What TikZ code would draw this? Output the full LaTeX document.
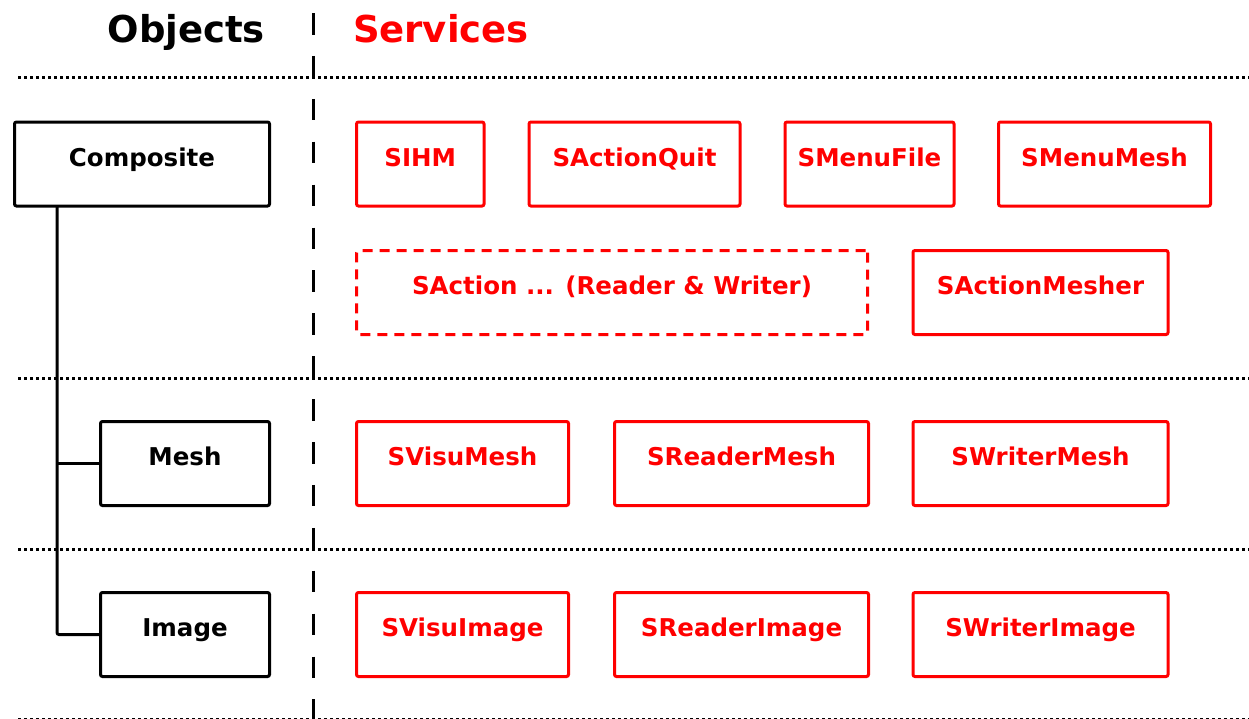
\documentclass[tikz,border=0pt]{standalone}
\usepackage{fontspec}
\setmainfont{DejaVu Sans}
\begin{document}
\begin{tikzpicture}[x=1pt,y=-1pt,
  every node/.style={outer sep=0pt},
  boxbase/.style={line width=3pt, rounded corners=2pt, anchor=north west,
    inner xsep=0pt, inner ysep=0pt, text height=44pt, text depth=40pt,
    font=\fontsize{24.5}{29}\selectfont\bfseries},
  objbox/.style={boxbase, draw=black, text=black},
  svcbox/.style={boxbase, draw=red, text=red},
  svcopen/.style={svcbox, dash pattern=on 10pt off 7pt},
  rowsep/.style={line width=3pt, dash pattern=on 3pt off 3pt, draw=black},
  colsep/.style={line width=3pt, dash pattern=on 21.5pt off 21.4pt, draw=black},
  tree/.style={line width=3pt, draw=black, rounded corners=2pt},
  heading/.style={font=\fontsize{37}{44}\selectfont\bfseries, inner sep=0pt}]
\useasboundingbox (0,0) rectangle (1249,718);

% column headings
\node[heading, anchor=base east] (hobj) at (265,42) {Objects};
\node[heading, anchor=base west, text=red] (hsvc) at (353,42) {Services};

% horizontal row separators
\draw[rowsep] (18,77.5) -- (1252,77.5);
\draw[rowsep] (18,378) -- (1252,378);
\draw[rowsep] (18,549) -- (1252,549);
\draw[rowsep] (18,719) -- (1252,719);

% vertical column separator
\draw[colsep] (313,13) -- (313,722);

% object hierarchy
\node[objbox, minimum width=255pt] (comp) at (14.5,122) {Composite};
\node[objbox, minimum width=169pt] (mesh) at (100.5,421.5) {Mesh};
\node[objbox, minimum width=169pt] (img)  at (100.5,592.5) {Image};

\coordinate (trunk) at (57,0);
\draw[tree] (trunk |- comp.south) |- (img.west);
\draw[tree] (trunk |- mesh.west) -- (mesh.west);

% services of the composite
\node[svcbox, minimum width=127.5pt] (sihm)  at (356.5,122) {SIHM};
\node[svcbox, minimum width=211pt]   (squit) at (529,122)   {SActionQuit};
\node[svcbox, minimum width=169pt]   (sfile) at (785,122)   {SMenuFile};
\node[svcbox, minimum width=212pt]   (smesh) at (998.5,122) {SMenuMesh};
\node[svcopen, minimum width=511pt]  (sact)  at (356.5,250.5) {SAction ... (Reader \& Writer)};
\node[svcbox, minimum width=255pt]   (smshr) at (913,250.5) {SActionMesher};

% services of the mesh
\node[svcbox, minimum width=212pt] (svm) at (356.5,421.5) {SVisuMesh};
\node[svcbox, minimum width=254pt] (srm) at (614.5,421.5) {SReaderMesh};
\node[svcbox, minimum width=255pt] (swm) at (913,421.5)   {SWriterMesh};

% services of the image
\node[svcbox, minimum width=212pt] (svi) at (356.5,592.5) {SVisuImage};
\node[svcbox, minimum width=254pt] (sri) at (614.5,592.5) {SReaderImage};
\node[svcbox, minimum width=255pt] (swi) at (913,592.5)   {SWriterImage};
\end{tikzpicture}
\end{document}
